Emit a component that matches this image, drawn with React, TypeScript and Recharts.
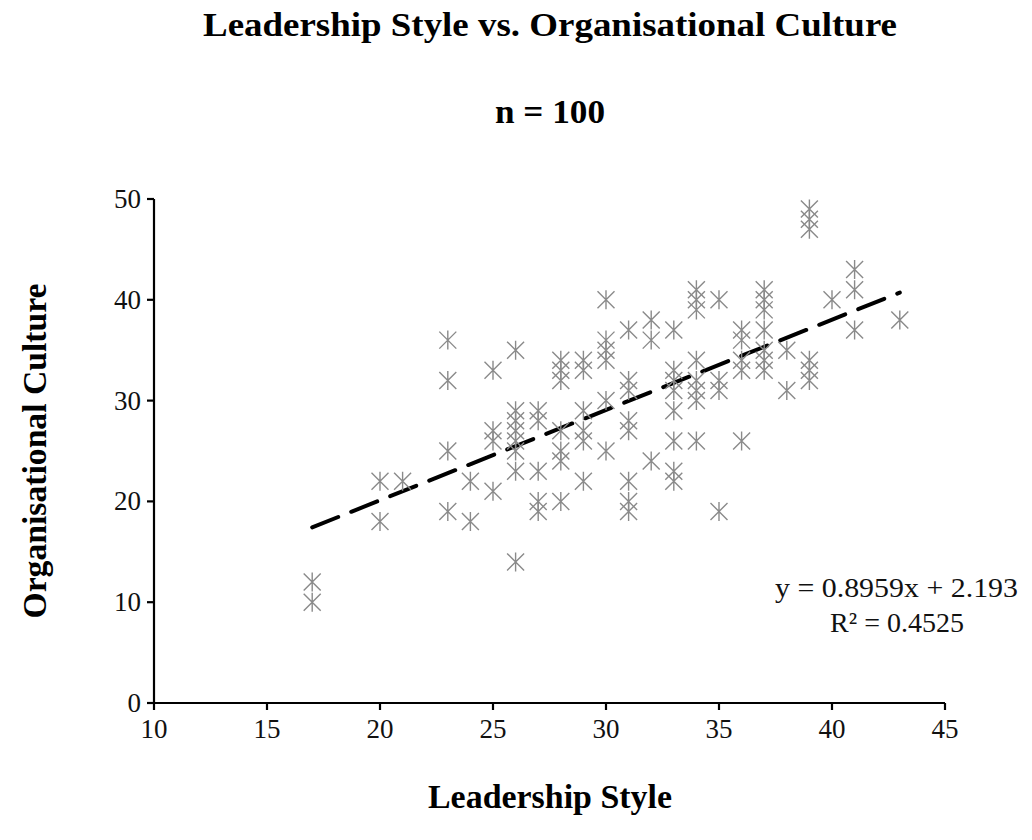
import { ReferenceLine, Scatter, ScatterChart, XAxis, YAxis } from 'recharts';

// Leadership Style (x) and Organisational Culture (y)
const leadership = [
  17, 17, 20, 20, 21, 23, 23, 23, 23, 24, 24, 25, 25, 25, 25,
  26, 26, 26, 26, 26, 26, 26, 26, 27, 27, 27, 27, 27,
  28, 28, 28, 28, 28, 28, 28, 29, 29, 29, 29, 29, 29,
  30, 30, 30, 30, 30, 30, 31, 31, 31, 31, 31, 31, 31, 31,
  32, 32, 32, 33, 33, 33, 33, 33, 33, 33, 33,
  34, 34, 34, 34, 34, 34, 34, 34, 35, 35, 35, 35,
  36, 36, 36, 36, 36, 37, 37, 37, 37, 37, 37, 37,
  38, 38, 39, 39, 39, 39, 39, 39, 40, 41, 41, 41, 43,
];
const culture = [
  12, 10, 22, 18, 22, 36, 32, 25, 19, 22, 18, 33, 27, 26, 21,
  35, 29, 28, 27, 26, 25, 23, 14, 29, 28, 23, 20, 19,
  34, 33, 32, 27, 25, 24, 20, 34, 33, 29, 27, 26, 22,
  40, 36, 35, 34, 30, 25, 37, 32, 31, 28, 27, 22, 20, 19,
  38, 36, 24, 37, 33, 32, 31, 29, 26, 23, 22,
  41, 40, 39, 34, 32, 31, 30, 26, 40, 32, 31, 19,
  37, 36, 34, 33, 26, 41, 40, 37, 35, 34, 33, 39,
  35, 31, 49, 47, 34, 33, 32, 48, 40, 43, 41, 37, 38,
];

const xTicks = [10, 15, 20, 25, 30, 35, 40, 45];
const yTicks = [0, 10, 20, 30, 40, 50];

// linear trendline reported on the chart
const slope = 0.8959;
const intercept = 2.193;
const trendFrom = 17;
const trendTo = 43;

const points = leadership.map((x, i) => ({ x, y: culture[i] }));

const FONT = '"Liberation Serif", "Times New Roman", serif';
const TICK_SIZE = 27;

function Asterisk(props: any) {
  const { cx, cy } = props;
  const r = 9.5;
  const d = 8.5;
  return (
    <path
      d={`M${cx},${cy - r}L${cx},${cy + r}M${cx - d},${cy - d}L${cx + d},${cy + d}M${cx - d},${cy + d}L${cx + d},${cy - d}`}
      stroke="#8a8a8a"
      strokeWidth={1.4}
      fill="none"
    />
  );
}

function XTick(props: any) {
  const { x, y, payload } = props;
  return (
    <text x={x} y={y + 26} textAnchor="middle" fontSize={TICK_SIZE} fontFamily={FONT} fill="#111">
      {payload.value}
    </text>
  );
}

function YTick(props: any) {
  const { x, y, payload } = props;
  return (
    <text x={x - 4} y={y + 9} textAnchor="end" fontSize={TICK_SIZE} fontFamily={FONT} fill="#111">
      {payload.value}
    </text>
  );
}

export default function App() {
  return (
    <div style={{ position: 'absolute', left: 0, top: 0, width: 1032, height: 840, background: '#fff' }}>
      <ScatterChart
        width={1032}
        height={840}
        margin={{ top: 199, right: 87, bottom: 97, left: 94 }}
      >
        <XAxis
          type="number"
          dataKey="x"
          domain={[10, 45]}
          ticks={xTicks}
          interval={0}
          stroke="#000"
          strokeWidth={2.2}
          tickSize={7}
          height={40}
          tick={<XTick />}
        />
        <YAxis
          type="number"
          dataKey="y"
          domain={[0, 50]}
          ticks={yTicks}
          interval={0}
          stroke="#000"
          strokeWidth={2.2}
          tickSize={7}
          width={60}
          tick={<YTick />}
        />
        <ReferenceLine
          segment={[
            { x: trendFrom, y: slope * trendFrom + intercept },
            { x: trendTo, y: slope * trendTo + intercept },
          ]}
          stroke="#000"
          strokeWidth={4}
          strokeDasharray="28 14"
          strokeLinecap="round"
        />
        <Scatter data={points} shape={Asterisk} isAnimationActive={false} />
      </ScatterChart>
      <svg
        width={1032}
        height={840}
        style={{ position: 'absolute', left: 0, top: 0, pointerEvents: 'none' }}
        fontFamily={FONT}
      >
        <text
          x={550}
          y={36}
          textAnchor="middle"
          fontSize={34}
          fontWeight="bold"
          fill="#000"
          textLength={694}
          lengthAdjust="spacingAndGlyphs"
        >
          Leadership Style vs. Organisational Culture
        </text>
        <text
          x={550}
          y={123}
          textAnchor="middle"
          fontSize={33}
          fontWeight="bold"
          fill="#000"
          textLength={110}
          lengthAdjust="spacingAndGlyphs"
        >
          n = 100
        </text>
        <text
          x={550}
          y={808}
          textAnchor="middle"
          fontSize={33}
          fontWeight="bold"
          fill="#000"
          textLength={244}
          lengthAdjust="spacingAndGlyphs"
        >
          Leadership Style
        </text>
        <text
          x={0}
          y={0}
          transform="translate(46,451) rotate(-90)"
          textAnchor="middle"
          fontSize={33}
          fontWeight="bold"
          fill="#000"
          textLength={335}
          lengthAdjust="spacingAndGlyphs"
        >
          Organisational Culture
        </text>
        <text
          x={1018}
          y={597}
          textAnchor="end"
          fontSize={28}
          fill="#111"
          textLength={243}
          lengthAdjust="spacingAndGlyphs"
        >
          y = 0.8959x + 2.193
        </text>
        <text x={897} y={632} textAnchor="middle" fontSize={28} fill="#111">
          R² = 0.4525
        </text>
      </svg>
    </div>
  );
}
